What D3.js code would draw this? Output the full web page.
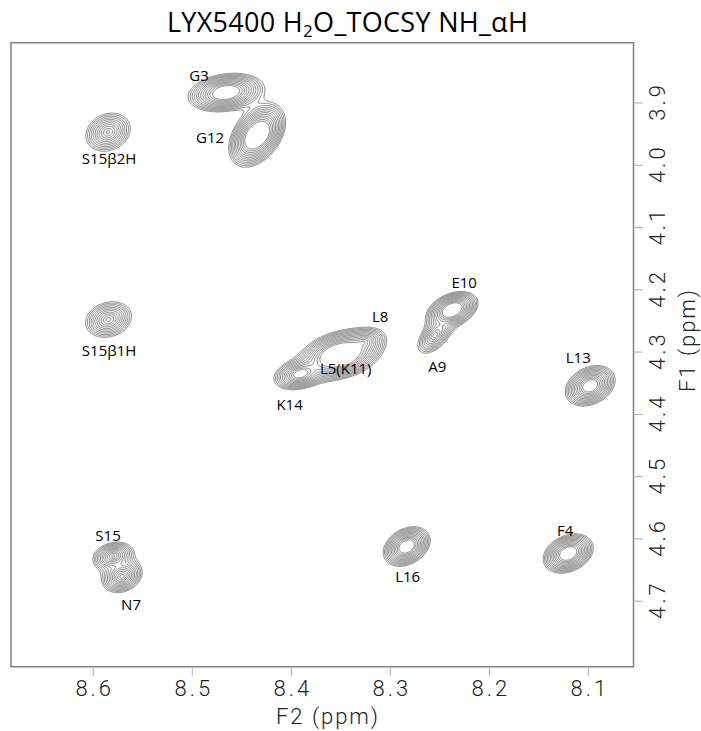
<!DOCTYPE html>
<html><head><meta charset="utf-8">
<script src="https://cdn.jsdelivr.net/npm/d3@7"></script>
<style>
html,body{margin:0;padding:0;background:#fff;}
svg{display:block;}
</style></head><body>
<svg id="chart" width="701" height="731"></svg>
<script>
// Cross peaks of the NH–Hα region (ppm), with line widths (ppm),
// F2/F1 correlation (tilt) and relative height.
const peakNames   = ["S15β2H","G3","G12","S15β1H","K14","L5(K11)","L8","E10","A9","L13","S15","N7","L16","F4"];
const peakF2      = [8.5845, 8.4654, 8.434, 8.584, 8.3906, 8.3502, 8.326, 8.237, 8.2542, 8.0977, 8.5795, 8.5704, 8.283, 8.1199];
const peakF1      = [3.9477, 3.884, 3.9525, 4.2486, 4.336, 4.3056, 4.2846, 4.233, 4.2737, 4.355, 4.6283, 4.661, 4.613, 4.6242];
const peakWidthF2 = [0.0110, 0.0136, 0.0093, 0.0112, 0.0105, 0.0131, 0.0099, 0.0090, 0.0090, 0.0095, 0.0092, 0.0090, 0.0087, 0.0091];
const peakWidthF1 = [0.0150, 0.0110, 0.0166, 0.0138, 0.0100, 0.0126, 0.0105, 0.0102, 0.0150, 0.0123, 0.0102, 0.0116, 0.0117, 0.0114];
const peakTilt    = [0.18, 0.22, 0.40, 0.18, 0.30, 0.30, 0.30, 0.35, 0.55, 0.28, 0.22, 0.22, 0.30, 0.28];
const peakHeight  = [10.5, 32, 48, 11, 20, 60, 8, 35, 9, 25, 13, 14, 28, 30];

// Assignment labels (text and ppm anchor)
const labelText = ["G3","G12","S15β2H","S15β1H","L8","E10","A9","L5(K11)","K14","L13","S15","N7","L16","F4"];
const labelF2   = [8.4926, 8.4815, 8.5835, 8.5835, 8.3098, 8.225, 8.2522, 8.3446, 8.4012, 8.1098, 8.5845, 8.5613, 8.282, 8.1229];
const labelF1   = [3.865, 3.9653, 3.999, 4.307, 4.2526, 4.198, 4.3329, 4.336, 4.393, 4.3185, 4.604, 4.715, 4.6695, 4.5961];

// Axis ticks and contour levels
const f2Ticks = [8.6, 8.5, 8.4, 8.3, 8.2, 8.1];
const f1Ticks = [3.9, 4.0, 4.1, 4.2, 4.3, 4.4, 4.5, 4.6, 4.7];
const contourLevels = [1.0, 1.25, 1.56, 1.95, 2.44, 3.05, 3.81, 4.77, 5.96, 7.45, 9.31, 11.64];

const svg = d3.select("#chart");
const pLeft = 11, pRight = 633.5, pTop = 42.7, pBottom = 666.7;

const x = d3.scaleLinear().domain([8.6825, 8.054]).range([pLeft, pRight]);
const y = d3.scaleLinear().domain([3.804, 4.806]).range([pTop, pBottom]);

// Title
const title = svg.append("text")
  .attr("x", 347.5).attr("y", 31.7)
  .attr("text-anchor", "middle")
  .style("font-family", "'Open Sans', 'Noto Sans', sans-serif")
  .style("font-size", "27px")
  .style("letter-spacing", "0.3px")
  .style("fill", "#000");
title.append("tspan").text("LYX5400 H");
title.append("tspan").text("2").style("font-size", "17px").attr("dy", 5);
title.append("tspan").text("O_TOCSY NH_αH").attr("dy", -5);

// Intensity surface sampled on a 1px grid (line shape exp(-r^1.2))
const nx = Math.ceil(pRight - pLeft), ny = Math.ceil(pBottom - pTop);
const values = new Float64Array(nx * ny);
const peaks = peakNames.map((n, k) => ({
  c2: peakF2[k], c1: peakF1[k], s2: peakWidthF2[k], s1: peakWidthF1[k],
  r: peakTilt[k], a: peakHeight[k]
}));
const f2Grid = d3.range(nx).map(i => x.invert(pLeft + i + 0.5));
for (let j = 0; j < ny; j++) {
  const f1 = y.invert(pTop + j + 0.5);
  for (const p of peaks) {
    const dy = (f1 - p.c1) / p.s1;
    if (Math.abs(dy) > 9) continue;
    const inv = 1 / (1 - p.r * p.r);
    for (let i = 0; i < nx; i++) {
      const dx = (f2Grid[i] - p.c2) / p.s2;
      if (Math.abs(dx) > 9) continue;
      const q = (dx * dx - 2 * p.r * dx * dy + dy * dy) * inv;
      values[j * nx + i] += p.a * Math.exp(-Math.pow(q, 0.6));
    }
  }
}

svg.append("defs").append("clipPath").attr("id", "plotClip")
  .append("rect").attr("x", pLeft).attr("y", pTop)
  .attr("width", pRight - pLeft).attr("height", pBottom - pTop);

const contours = d3.contours().size([nx, ny]).thresholds(contourLevels)(values);
svg.append("g")
  .attr("clip-path", "url(#plotClip)")
  .append("g")
  .attr("transform", `translate(${pLeft},${pTop})`)
  .selectAll("path")
  .data(contours)
  .join("path")
  .attr("d", d3.geoPath())
  .attr("fill", "none")
  .attr("stroke", "#555")
  .attr("stroke-width", 0.7);

// Peak labels
svg.append("g").selectAll("text")
  .data(labelText)
  .join("text")
  .attr("x", (d, k) => x(labelF2[k]))
  .attr("y", (d, k) => y(labelF1[k]))
  .attr("text-anchor", "middle")
  .style("font-family", "'Open Sans', 'Noto Sans', sans-serif")
  .style("font-size", "15px")
  .style("fill", "#000")
  .text(d => d);

// Frame
svg.append("rect")
  .attr("x", pLeft).attr("y", pTop)
  .attr("width", pRight - pLeft).attr("height", pBottom - pTop)
  .attr("fill", "none").attr("stroke", "#808080").attr("stroke-width", 1.5);

const tickFont = g => g.selectAll("text")
  .style("font-family", "Roboto, 'DejaVu Sans', sans-serif")
  .style("font-weight", 300)
  .style("font-size", "22px")
  .style("letter-spacing", "3px")
  .style("fill", "#222");

// F2 axis (bottom)
const xAxis = svg.append("g")
  .attr("transform", `translate(0,${pBottom})`)
  .call(d3.axisBottom(x).tickValues(f2Ticks).tickSize(9).tickFormat(d3.format(".1f")));
xAxis.select(".domain").remove();
xAxis.selectAll("line").attr("stroke", "#aaa");
xAxis.selectAll("text").attr("y", 29.3).attr("dy", null).attr("dx", 1.5);
xAxis.call(tickFont);

// F1 axis (right, rotated labels)
const yAxis = svg.append("g")
  .attr("transform", `translate(${pRight},0)`)
  .call(d3.axisRight(y).tickValues(f1Ticks).tickSize(9).tickFormat(d3.format(".1f")));
yAxis.select(".domain").remove();
yAxis.selectAll("line").attr("stroke", "#aaa");
yAxis.selectAll("text")
  .attr("x", null).attr("dy", null).attr("dx", 1.5)
  .attr("text-anchor", "middle")
  .attr("transform", `translate(${665 - pRight},0) rotate(-90)`);
yAxis.call(tickFont);

// Axis titles
const axisTitle = sel => sel
  .attr("text-anchor", "middle")
  .style("font-family", "Roboto, 'DejaVu Sans', sans-serif")
  .style("font-weight", 300)
  .style("font-size", "22px")
  .style("letter-spacing", "2px")
  .style("fill", "#222");
svg.append("text")
  .attr("x", 328).attr("y", 724)
  .call(axisTitle)
  .text("F2 (ppm)");
svg.append("text")
  .attr("transform", "translate(695,340) rotate(-90)")
  .call(axisTitle)
  .text("F1 (ppm)");
</script>
</body></html>
